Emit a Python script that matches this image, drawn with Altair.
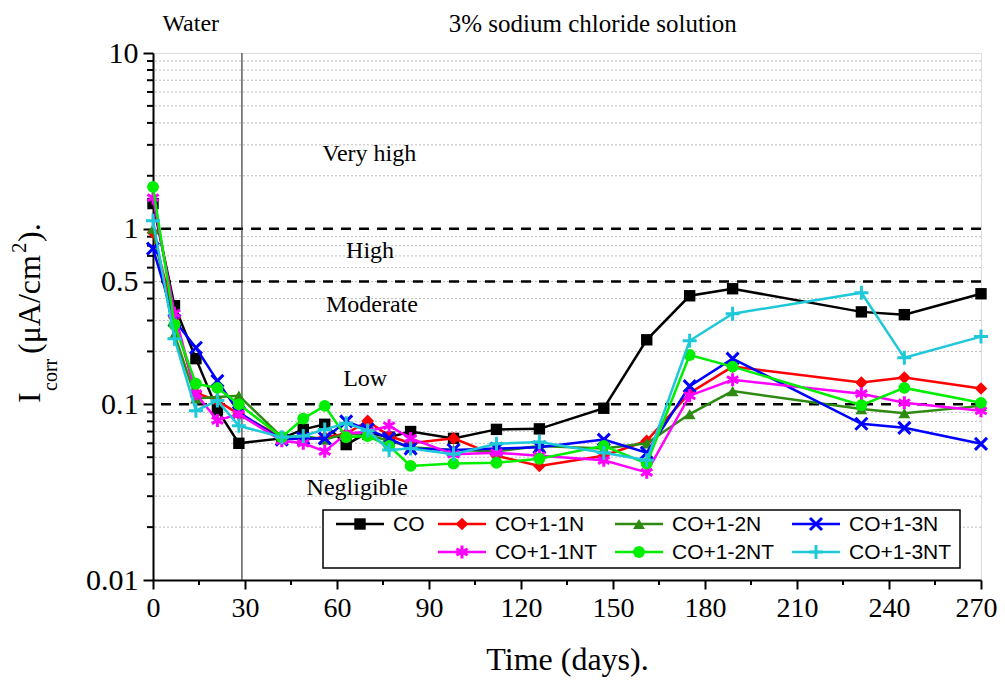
import altair as alt
import pandas as pd

# ---------------- data ----------------
days = [0, 7, 14, 21, 28, 42, 49, 56, 63, 70, 77, 84, 98, 112, 126, 147, 161, 175, 189, 231, 245, 270]

series_names = ["CO", "CO+1-1N", "CO+1-2N", "CO+1-3N", "CO+1-1NT", "CO+1-2NT", "CO+1-3NT"]

co = [1.39, 0.364, 0.182, 0.093, 0.060, 0.064, 0.072, 0.077, 0.059, 0.069, 0.065, 0.070,
      0.064, 0.072, 0.0725, 0.095, 0.233, 0.415, 0.455, 0.336, 0.324, 0.426]
co_1_1n = [0.95, 0.311, 0.116, 0.105, 0.088, 0.065, 0.063, 0.065, 0.068, 0.0805, 0.066, 0.060,
           0.064, 0.051, 0.0446, 0.051, 0.062, 0.116, 0.164, 0.133, 0.142, 0.123]
co_1_2n = [1.0, 0.25, 0.108, 0.11, 0.112, 0.065, 0.066, 0.063, 0.068, 0.067, 0.062, 0.057,
           0.055, 0.054, 0.058, 0.056, 0.060, 0.088, 0.119, 0.094, 0.089, 0.098]
co_1_3n = [0.77, 0.30, 0.21, 0.136, 0.09, 0.063, 0.064, 0.064, 0.080, 0.072, 0.064, 0.056,
           0.055, 0.056, 0.057, 0.063, 0.053, 0.127, 0.182, 0.0775, 0.0735, 0.0596]
co_1_1nt = [1.5, 0.33, 0.115, 0.081, 0.088, 0.062, 0.060, 0.054, 0.068, 0.070, 0.0755, 0.064,
            0.052, 0.053, 0.051, 0.048, 0.041, 0.112, 0.138, 0.115, 0.102, 0.092]
co_1_2nt = [1.73, 0.284, 0.131, 0.124, 0.100, 0.065, 0.083, 0.098, 0.065, 0.066, 0.058, 0.0446,
            0.046, 0.0465, 0.049, 0.058, 0.046, 0.191, 0.164, 0.099, 0.124, 0.102]
co_1_3nt = [1.11, 0.236, 0.092, 0.105, 0.0755, 0.065, 0.066, 0.072, 0.078, 0.071, 0.055, 0.056,
            0.052, 0.0596, 0.0611, 0.053, 0.048, 0.23, 0.328, 0.432, 0.184, 0.243]

series_values = [co, co_1_1n, co_1_2n, co_1_3n, co_1_1nt, co_1_2nt, co_1_3nt]

x_ticks = [0, 30, 60, 90, 120, 150, 180, 210, 240, 270]
x_minor = [15, 45, 75, 105, 135, 165, 195, 225, 255]
y_ticks = [0.01, 0.1, 0.5, 1, 10]
y_minor = [0.02, 0.03, 0.04, 0.05, 0.06, 0.07, 0.08, 0.09,
           0.2, 0.3, 0.4, 0.6, 0.7, 0.8, 0.9,
           2, 3, 4, 5, 6, 7, 8, 9]
grid_values = [0.02, 0.03, 0.04, 0.05, 0.06, 0.07, 0.08, 0.09,
               0.2, 0.3, 0.4, 0.5, 0.6, 0.7, 0.8, 0.9,
               2, 3, 4, 5, 6, 7, 8, 9]
thresholds = [1, 0.5, 0.1]
phase_change_day = [29]

zone_labels = ["Very high", "High", "Moderate", "Low", "Negligible"]
zone_days = [70.5, 70.8, 71.4, 69.2, 66.6]
zone_values = [2.67, 0.75, 0.369, 0.14, 0.0334]

phase_labels = ["Water", "3% sodium chloride solution"]
phase_days = [12.3, 143.4]
phase_font = [24, 25]

# ---------------- styles ----------------
colors = ["#000000", "#ff0000", "#2e8b12", "#0000ff", "#ff00ff", "#00ee00", "#1ec8d8"]
shapes = ["square", "diamond", "triangle-up",
          "M-1,-1L1,1M-1,1L1,-1",
          "M0,-1L0,1M-0.87,-0.5L0.87,0.5M-0.87,0.5L0.87,-0.5",
          "circle",
          "M-1,0L1,0M0,-1L0,1"]
filled = [True, True, True, False, False, True, False]
sizes = [130, 160, 140, 144, 169, 140, 196]

W, H = 828, 527
SERIF = "Liberation Serif"
SANS = "Liberation Sans"

xscale = alt.Scale(domain=[0, 270], nice=False, zero=False)
yscale = alt.Scale(type="log", domain=[0.01, 10], nice=False)

x_axis = alt.Axis(values=x_ticks, title="Time (days).", labelFont=SERIF, labelFontSize=28,
                  labelAlign={"condition": {"test": "datum.value == 270", "value": "right"}, "value": "center"},
                  labelOffset={"condition": {"test": "datum.value == 270", "value": 16}, "value": 0},
                  titleFont=SERIF, titleFontSize=32, titleFontWeight="normal", titleColor="black",
                  labelColor="black", tickColor="black", domainColor="black", tickSize=9,
                  tickWidth=2, domainWidth=2, labelPadding=5, titlePadding=22, grid=False,
                  labelFlush=False)
y_axis = alt.Axis(values=y_ticks, format="~g", title=None, labelFont=SERIF, labelFontSize=30,
                  labelColor="black", tickColor="black", domainColor="black", tickSize=10,
                  tickWidth=2, domainWidth=2, labelPadding=5, grid=False, labelFlush=False)


def X(field):
    return alt.X(field, scale=xscale, axis=x_axis)


def Y(field):
    return alt.Y(field, scale=yscale, axis=y_axis)


layers = []

# minor gridlines (dotted)
grid_df = pd.DataFrame({"v": grid_values})
layers.append(alt.Chart(grid_df).mark_rule(color="#bdbdbd", strokeWidth=1, strokeDash=[2, 2]).encode(
    y=Y("v:Q")))

# threshold dashed lines
thr_df = pd.DataFrame({"v": thresholds})
layers.append(alt.Chart(thr_df).mark_rule(color="black", strokeWidth=2.5, strokeDash=[10, 8]).encode(
    y=Y("v:Q")))

# phase boundary
pc_df = pd.DataFrame({"d": phase_change_day})
layers.append(alt.Chart(pc_df).mark_rule(color="#333333", strokeWidth=1.2).encode(x=X("d:Q")))

# minor ticks
ymin_df = pd.DataFrame({"v": y_minor})
layers.append(alt.Chart(ymin_df).mark_rule(color="black", strokeWidth=2).encode(
    y=Y("v:Q"), x=alt.value(-6), x2=alt.value(0)))
xmin_df = pd.DataFrame({"d": x_minor})
layers.append(alt.Chart(xmin_df).mark_rule(color="black", strokeWidth=2).encode(
    x=X("d:Q"), y=alt.value(H), y2=alt.value(H + 5)))

# series
for i, (name, vals) in enumerate(zip(series_names, series_values)):
    df = pd.DataFrame({"day": days, "icorr": vals, "series": name})
    base = alt.Chart(df).encode(x=X("day:Q"), y=Y("icorr:Q"))
    layers.append(base.mark_line(color=colors[i], strokeWidth=2.5))
    if filled[i]:
        pm = base.mark_point(shape=shapes[i], filled=True, color=colors[i], size=sizes[i], opacity=1)
    else:
        pm = base.mark_point(shape=shapes[i], filled=False, color=colors[i], size=sizes[i],
                             strokeWidth=3, opacity=1)
    layers.append(pm)

# zone labels
zone_df = pd.DataFrame({"label": zone_labels, "day": zone_days, "v": zone_values})
layers.append(alt.Chart(zone_df).mark_text(font=SERIF, fontSize=24, color="black", baseline="middle").encode(
    x=X("day:Q"), y=Y("v:Q"), text="label:N"))

# phase labels above the plot
for lbl, d, fs in zip(phase_labels, phase_days, phase_font):
    phase_df = pd.DataFrame({"label": [lbl], "day": [d]})
    layers.append(alt.Chart(phase_df).mark_text(font=SERIF, fontSize=fs, color="black", baseline="middle").encode(
        x=X("day:Q"), y=alt.value(-29), text="label:N"))

# legend (custom, to mimic the two-row layout with line + marker samples)
leg_col_x = [207, 309, 486, 663]
leg_row_y = [471, 499]
leg_pos = [(0, 0), (1, 0), (2, 0), (3, 0), (1, 1), (2, 1), (3, 1)]
box_df = pd.DataFrame({"k": [0]})
layers.append(alt.Chart(box_df).mark_rect(fill="white", stroke="black", strokeWidth=1.5).encode(
    x=alt.value(170), x2=alt.value(807), y=alt.value(457), y2=alt.value(515)))
for i, name in enumerate(series_names):
    c, r = leg_pos[i]
    cx, ry = leg_col_x[c], leg_row_y[r]
    one = pd.DataFrame({"series": [name]})
    layers.append(alt.Chart(one).mark_rule(color=colors[i], strokeWidth=2.5).encode(
        x=alt.value(cx - 24), x2=alt.value(cx + 24), y=alt.value(ry)))
    if filled[i]:
        lp = alt.Chart(one).mark_point(shape=shapes[i], filled=True, color=colors[i], size=sizes[i], opacity=1)
    else:
        lp = alt.Chart(one).mark_point(shape=shapes[i], filled=False, color=colors[i], size=sizes[i],
                                       strokeWidth=3, opacity=1)
    layers.append(lp.encode(x=alt.value(cx), y=alt.value(ry)))
    layers.append(alt.Chart(one).mark_text(font=SANS, fontSize=21, color="black", align="left",
                                           baseline="middle").encode(
        x=alt.value(cx + 33), y=alt.value(ry + 1), text="series:N"))

# y-axis title built from pieces (I with subscript "corr", cm with superscript 2)
title_df = pd.DataFrame({
    "t": ["I", "corr", "(\u03bcA/cm", "2", ")."],
    "tx": [-113, -96, -113, -127, -113],
    "ty": [350, 338, 301, 200, 189],
    "fs": [32, 20, 32, 21, 32],
})
for k in range(len(title_df)):
    row = title_df.iloc[[k]]
    layers.append(alt.Chart(row).mark_text(font=SERIF, fontSize=int(row["fs"].iloc[0]), color="black",
                                           angle=270, align="left", baseline="alphabetic").encode(
        x=alt.value(int(row["tx"].iloc[0])), y=alt.value(int(row["ty"].iloc[0])), text="t:N"))

chart = alt.layer(*layers).properties(
    width=W, height=H,
    padding={"left": 145, "top": 45, "right": 16, "bottom": 99},
    autosize=alt.AutoSizeParams(type="none"),
).configure_view(stroke="black", strokeWidth=2).configure(background="white")

chart.save("out.html", embed_options={"renderer": "svg", "actions": False})
